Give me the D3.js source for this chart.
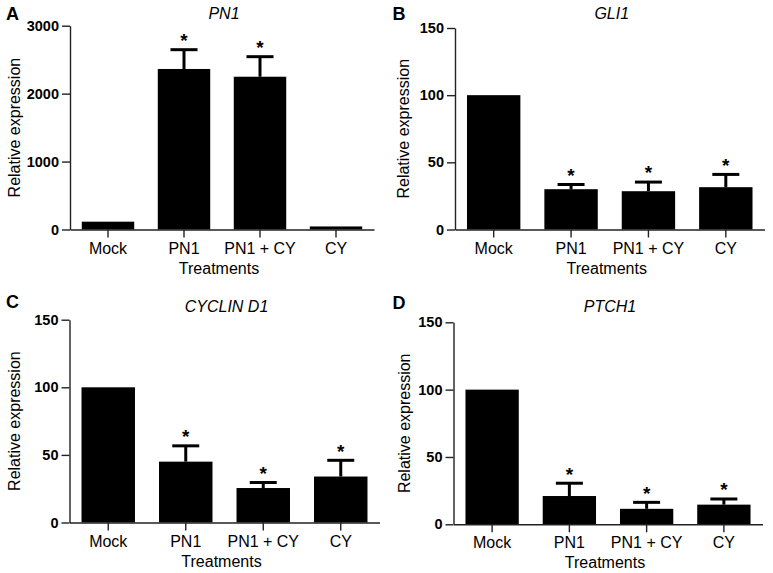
<!DOCTYPE html>
<html><head><meta charset="utf-8">
<script src="https://cdn.jsdelivr.net/npm/d3@7/dist/d3.min.js"></script>
<style>body{margin:0;background:#fff}svg{display:block}</style>
</head><body>
<svg id="chart" width="773" height="573"></svg>
<script>
// ---- data ----
const categories = ["Mock", "PN1", "PN1 + CY", "CY"];
const panelLetters = ["A", "B", "C", "D"];
const geneTitles = ["PN1", "GLI1", "CYCLIN D1", "PTCH1"];
const pn1Values = [115, 2363, 2249, 45];
const pn1Errors = [0, 284, 295, 0];
const gli1Values = [100, 30, 28.5, 31.5];
const gli1Errors = [0, 3.5, 6.8, 9.5];
const cyclinD1Values = [100, 45, 25.5, 34];
const cyclinD1Errors = [0, 11.7, 4.1, 12];
const ptch1Values = [100, 21, 11.5, 14.6];
const ptch1Errors = [0, 9.5, 4.8, 4.2];
const significant = [false, true, true, true];
const ticksA = [0, 1000, 2000, 3000];
const ticksBCD = [0, 50, 100, 150];
const yLabel = "Relative expression";
const xLabel = "Treatments";

const font = "'Liberation Sans', Arial, Helvetica, sans-serif";
const svg = d3.select("#chart");

const panels = [
  {values: pn1Values, errors: pn1Errors, ticks: ticksA, max: 3000,
   ax: 70, right: 374, y0: 229.5, yTop: 25.7, lx: 6, lby: 20, ylx: 20, tby: 19},
  {values: gli1Values, errors: gli1Errors, ticks: ticksBCD, max: 150,
   ax: 455, right: 764.5, y0: 229.5, yTop: 28, lx: 392.5, lby: 20, ylx: 409, tby: 18.5},
  {values: cyclinD1Values, errors: cyclinD1Errors, ticks: ticksBCD, max: 150,
   ax: 69.5, right: 379.5, y0: 522.5, yTop: 319.7, lx: 6, lby: 307.5, ylx: 20, tby: 311.5},
  {values: ptch1Values, errors: ptch1Errors, ticks: ticksBCD, max: 150,
   ax: 453.5, right: 762.5, y0: 524.3, yTop: 322.3, lx: 392.5, lby: 308.5, ylx: 410, tby: 311.5}
];

panels.forEach((p, pi) => {
  const g = svg.append("g");
  const x = d3.scaleBand().domain(categories).range([p.ax, p.right])
    .paddingInner(0.31).paddingOuter(0.155);
  const y = d3.scaleLinear().domain([0, p.max]).range([p.y0, p.yTop]);

  // bars
  g.selectAll("rect.bar").data(categories).enter().append("rect")
    .attr("x", d => x(d))
    .attr("width", x.bandwidth())
    .attr("y", (d, i) => y(p.values[i]))
    .attr("height", (d, i) => p.y0 - y(p.values[i]))
    .attr("fill", "#000");

  // error bars (upper)
  const capHalf = 13.5;
  categories.forEach((c, i) => {
    if (!p.errors[i]) return;
    const cx = x(c) + x.bandwidth() / 2;
    const top = y(p.values[i] + p.errors[i]);
    g.append("line").attr("x1", cx).attr("x2", cx)
      .attr("y1", y(p.values[i])).attr("y2", top)
      .attr("stroke", "#000").attr("stroke-width", 3);
    g.append("line").attr("x1", cx - capHalf).attr("x2", cx + capHalf)
      .attr("y1", top).attr("y2", top)
      .attr("stroke", "#000").attr("stroke-width", 3);
    if (significant[i]) {
      g.append("text").attr("x", cx).attr("y", top + 3)
        .attr("dy", "-0.3em")
        .attr("text-anchor", "middle")
        .attr("font-family", font).attr("font-weight", "bold")
        .attr("font-size", 19).text("*");
    }
  });

  // y axis
  const yAxis = g.append("g").attr("transform", `translate(${p.ax},0)`)
    .call(d3.axisLeft(y).tickValues(p.ticks).tickFormat(d3.format("d"))
      .tickSize(8).tickSizeOuter(0).tickPadding(3));
  yAxis.select(".domain").attr("stroke", "#222").attr("stroke-width", 1.4);
  yAxis.selectAll(".tick line").attr("stroke", "#222").attr("stroke-width", 1.4);
  yAxis.selectAll(".tick text").attr("font-family", font).attr("font-weight", "bold")
    .attr("font-size", 14.5).attr("fill", "#000");

  // x axis
  const xAxis = g.append("g").attr("transform", `translate(0,${p.y0})`)
    .call(d3.axisBottom(x).tickSize(8).tickSizeOuter(0).tickPadding(6));
  xAxis.select(".domain").attr("stroke", "#222").attr("stroke-width", 1.4);
  xAxis.selectAll(".tick line").attr("stroke", "#222").attr("stroke-width", 1.4);
  xAxis.selectAll(".tick text").attr("font-family", font)
    .attr("font-size", 16).attr("fill", "#000").attr("dy", "0").attr("y", 24);

  // x axis title
  g.append("text").attr("x", (p.ax + p.right) / 2 - 3).attr("y", p.y0 + 44)
    .attr("text-anchor", "middle").attr("font-family", font).attr("font-size", 16)
    .text(xLabel);

  // y axis title
  const ym = (p.y0 + p.yTop) / 2;
  g.append("text").attr("transform", `translate(${p.ylx},${ym}) rotate(-90)`)
    .attr("text-anchor", "middle").attr("font-family", font).attr("font-size", 16)
    .text(yLabel);

  // gene title
  g.append("text").attr("x", (p.ax + p.right) / 2 + 2).attr("y", p.tby)
    .attr("text-anchor", "middle").attr("font-family", font).attr("font-style", "italic")
    .attr("font-size", 16).text(geneTitles[pi]);

  // panel letter
  g.append("text").attr("x", p.lx).attr("y", p.lby)
    .attr("font-family", font).attr("font-weight", "bold").attr("font-size", 18)
    .text(panelLetters[pi]);
});
</script>
</body></html>
